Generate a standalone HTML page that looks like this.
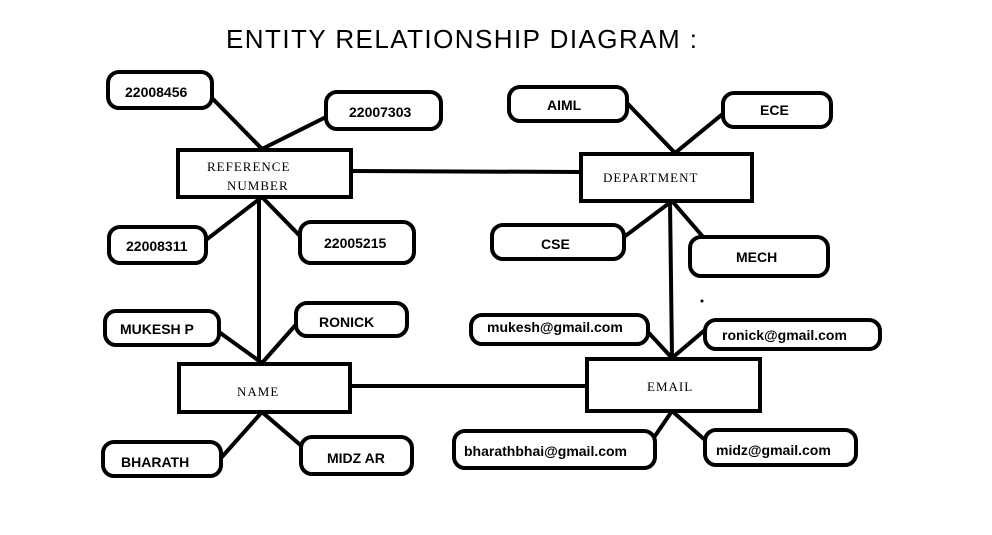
<!DOCTYPE html>
<html><head><style>
html,body{margin:0;padding:0;background:#fff;}
svg{display:block}
.t{font-family:"Liberation Sans",sans-serif;font-weight:bold;font-size:14px;fill:#000}
.e{font-family:"Liberation Serif",serif;font-size:13px;letter-spacing:1px;fill:#000}
</style></head><body>
<svg width="992" height="535" viewBox="0 0 992 535" xmlns="http://www.w3.org/2000/svg">
<rect width="992" height="535" fill="#fff"/>
<text x="226" y="48" font-family="Liberation Sans,sans-serif" font-size="26" fill="#000" textLength="471">ENTITY RELATIONSHIP DIAGRAM :</text>
<g stroke="#000" stroke-width="4" fill="none" stroke-linecap="square">
<line x1="212" y1="98" x2="262" y2="149"/><line x1="330" y1="115" x2="262" y2="149"/>
<line x1="262" y1="197" x2="206" y2="240"/><line x1="262" y1="197" x2="300" y2="236"/>
<line x1="259" y1="197" x2="259" y2="363"/>
<line x1="351" y1="171" x2="580" y2="172"/>
<line x1="219" y1="332" x2="262" y2="363"/><line x1="300" y1="320" x2="262" y2="363"/>
<line x1="221" y1="458" x2="262" y2="412"/><line x1="305" y1="449" x2="262" y2="412"/>
<line x1="350" y1="386" x2="586" y2="386"/>
<line x1="627" y1="103" x2="675" y2="153"/><line x1="730" y1="108" x2="675" y2="153"/>
<line x1="624" y1="237" x2="672" y2="201"/><line x1="704" y1="238" x2="672" y2="201"/>
<line x1="670" y1="201" x2="672" y2="358"/>
<line x1="648" y1="332" x2="672" y2="358"/><line x1="705" y1="330" x2="672" y2="358"/>
<line x1="655" y1="436" x2="672" y2="411"/><line x1="705" y1="440" x2="672" y2="411"/>
</g>
<g stroke="#000" stroke-width="4" fill="#fff">
<rect x="178" y="150" width="173" height="47"/>
<rect x="581" y="154" width="171" height="47"/>
<rect x="179" y="364" width="171" height="48"/>
<rect x="587" y="359" width="173" height="52"/>
<rect x="108" y="72" width="104" height="36" rx="11"/>
<rect x="326" y="92" width="115" height="37" rx="11"/>
<rect x="109" y="227" width="97" height="36" rx="11"/>
<rect x="300" y="222" width="114" height="41" rx="11"/>
<rect x="509" y="87" width="118" height="34" rx="11"/>
<rect x="723" y="93" width="108" height="34" rx="11"/>
<rect x="492" y="225" width="132" height="34" rx="11"/>
<rect x="690" y="237" width="138" height="39" rx="11"/>
<rect x="105" y="311" width="114" height="34" rx="11"/>
<rect x="296" y="303" width="111" height="33" rx="11"/>
<rect x="103" y="442" width="118" height="34" rx="11"/>
<rect x="301" y="437" width="111" height="37" rx="11"/>
<rect x="471" y="315" width="177" height="29" rx="11"/>
<rect x="705" y="320" width="175" height="29" rx="11"/>
<rect x="454" y="431" width="201" height="37" rx="11"/>
<rect x="705" y="430" width="151" height="35" rx="11"/>
</g>
<circle cx="702" cy="301" r="1.5" fill="#000"/>
<text class="e" x="207" y="171">REFERENCE</text>
<text class="e" x="227" y="190">NUMBER</text>
<text class="e" x="603" y="182">DEPARTMENT</text>
<text class="e" x="237" y="396">NAME</text>
<text class="e" x="647" y="391">EMAIL</text>
<text class="t" x="125" y="97">22008456</text>
<text class="t" x="349" y="117">22007303</text>
<text class="t" x="126" y="251">22008311</text>
<text class="t" x="324" y="248">22005215</text>
<text class="t" x="547" y="110">AIML</text>
<text class="t" x="760" y="115">ECE</text>
<text class="t" x="541" y="249">CSE</text>
<text class="t" x="736" y="262">MECH</text>
<text class="t" x="120" y="334">MUKESH P</text>
<text class="t" x="319" y="327">RONICK</text>
<text class="t" x="121" y="467">BHARATH</text>
<text class="t" x="327" y="463">MIDZ AR</text>
<text class="t" x="487" y="332">mukesh@gmail.com</text>
<text class="t" x="722" y="340">ronick@gmail.com</text>
<text class="t" x="464" y="456">bharathbhai@gmail.com</text>
<text class="t" x="716" y="455">midz@gmail.com</text>
</svg>
</body></html>
